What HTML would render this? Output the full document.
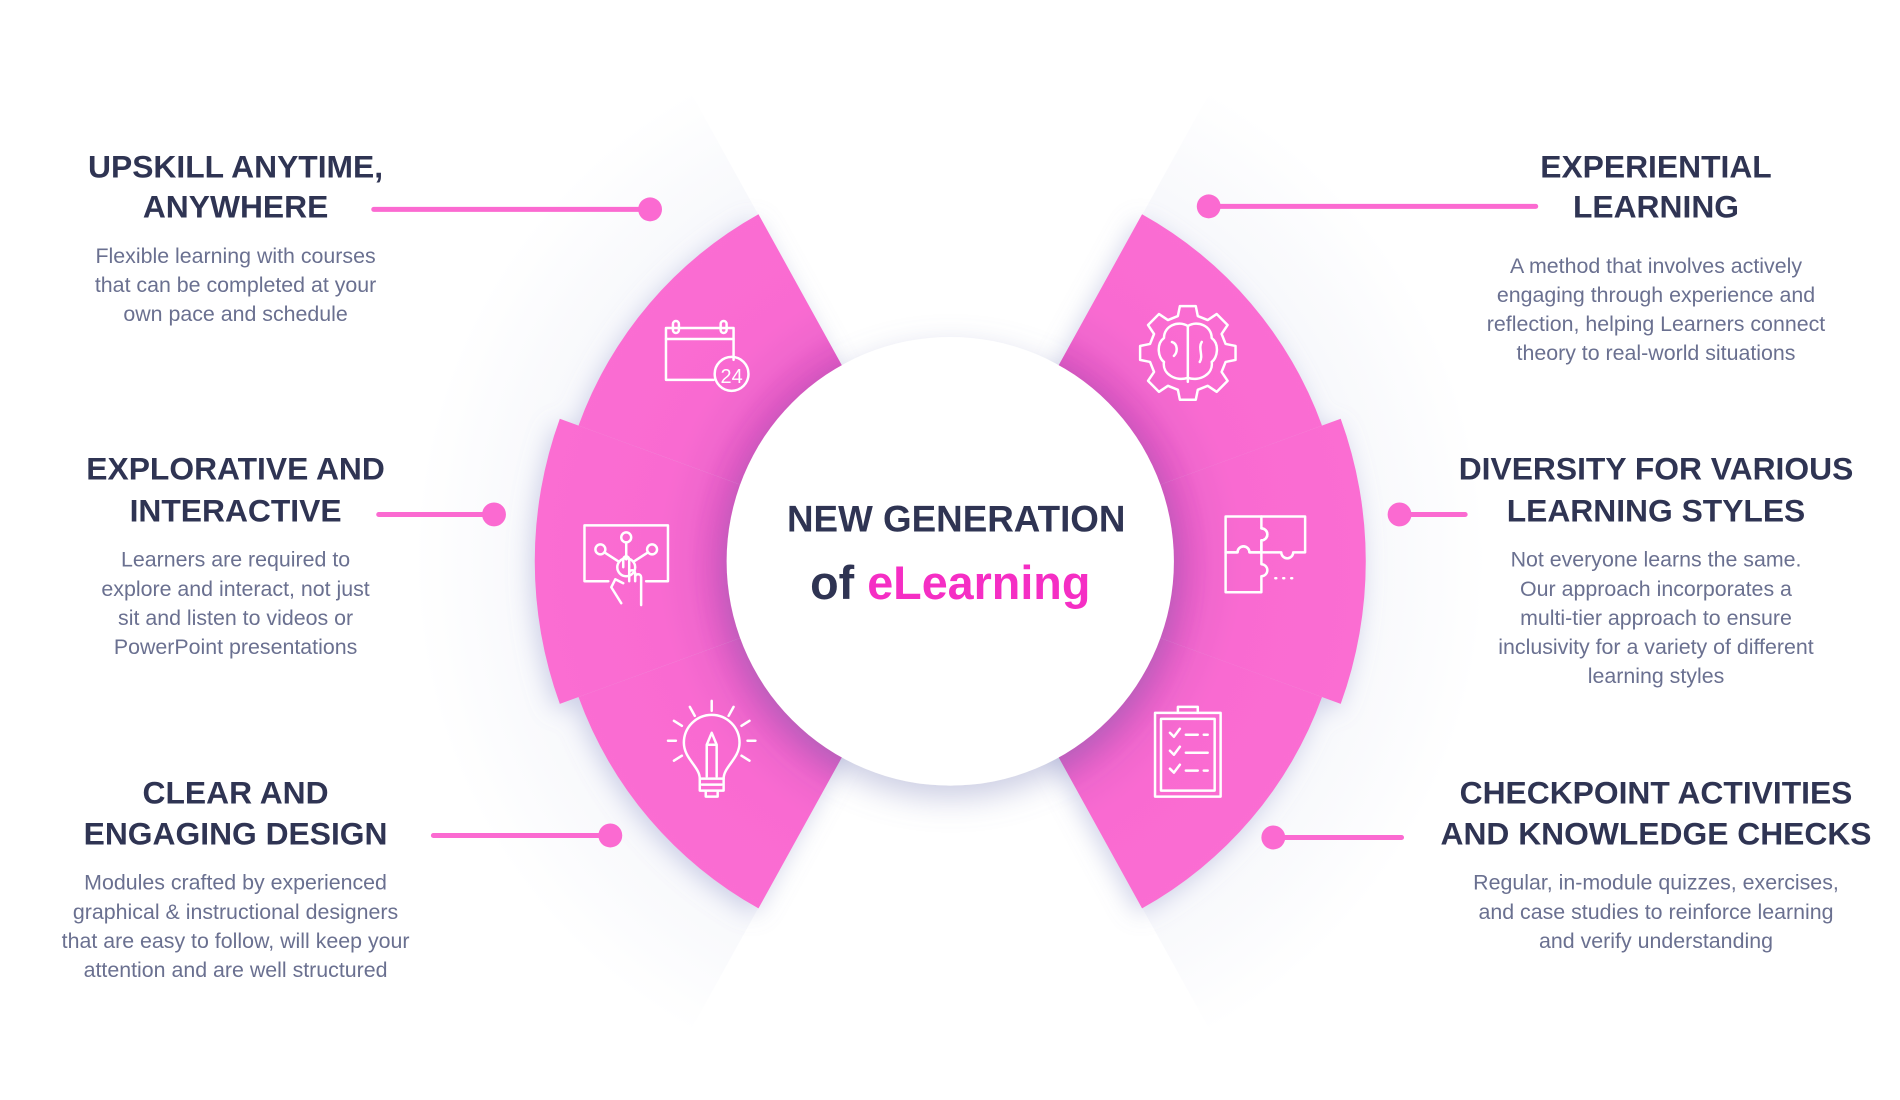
<!DOCTYPE html>
<html><head><meta charset="utf-8"><style>
html,body{margin:0;padding:0;background:#fff;width:1900px;height:1100px;overflow:hidden}
svg text{font-family:"Liberation Sans",sans-serif}
.h{font-weight:bold;font-size:32px;fill:#2f3453}
.b{font-size:21.5px;fill:#6a7090}
</style></head><body>
<svg width="1900" height="1100" viewBox="0 0 1900 1100" xmlns="http://www.w3.org/2000/svg">
<defs>
<radialGradient id="pg" gradientUnits="userSpaceOnUse" cx="0" cy="0" r="420">
<stop offset="0.5" stop-color="#d246b6"/>
<stop offset="0.55" stop-color="#df55c2"/>
<stop offset="0.62" stop-color="#f066cd"/>
<stop offset="0.7" stop-color="#f96bd1"/>
<stop offset="1" stop-color="#fb6dd2"/>
</radialGradient>
<radialGradient id="cone" gradientUnits="userSpaceOnUse" cx="0" cy="0" r="540">
<stop offset="0.65" stop-color="#eceef7"/>
<stop offset="0.85" stop-color="#f6f7fb"/>
<stop offset="1" stop-color="#ffffff"/>
</radialGradient>
<filter id="sh" x="-30%" y="-30%" width="160%" height="160%">
<feDropShadow dx="-4" dy="6" stdDeviation="12" flood-color="#8d93c8" flood-opacity="0.4"/>
</filter>
<filter id="csh" x="-30%" y="-30%" width="160%" height="160%">
<feDropShadow dx="0" dy="12" stdDeviation="16" flood-color="#7b80b8" flood-opacity="0.4"/>
</filter>
<path id="sec" d="M187.3,-70 L372.8,-139.4 A398,398 0 0 1 372.8,139.4 L187.3,70 A200,200 0 0 0 187.3,-70 Z"/>
<path id="mid" d="M187.9,-68.4 L392.8,-143 A418,418 0 0 1 392.8,143 L187.9,68.4 A200,200 0 0 0 187.9,-68.4 Z"/>
</defs>
<g transform="scale(0.994,0.997)">
<g transform="translate(956,563)">
  <path d="M0,0 L-261,-470 A540,540 0 0 0 -261,470 Z" fill="url(#cone)" opacity="0.55"/>
  <path d="M0,0 L261,-470 A540,540 0 0 1 261,470 Z" fill="url(#cone)" opacity="0.55"/>
  <g filter="url(#sh)">
    <use href="#sec" transform="rotate(220.5)" fill="url(#pg)"/>
    <use href="#sec" transform="rotate(139.5)" fill="url(#pg)"/>
    <use href="#mid" transform="rotate(180)" fill="url(#pg)"/>
  </g>
  <g filter="url(#sh)">
    <use href="#sec" transform="rotate(-40.5)" fill="url(#pg)"/>
    <use href="#sec" transform="rotate(40.5)" fill="url(#pg)"/>
    <use href="#mid" fill="url(#pg)"/>
  </g>
  <circle r="225" fill="#fff" filter="url(#csh)"/>
</g>

<text x="962" y="533" text-anchor="middle" style="font-weight:bold;font-size:37px;fill:#2f3453">NEW GENERATION</text>
<text x="956" y="601" text-anchor="middle" style="font-weight:bold;font-size:47px;fill:#2f3453">of <tspan fill="#f52ec4">eLearning</tspan></text>

<g fill="none" stroke="#fff" stroke-width="2.5" stroke-linecap="round" stroke-linejoin="round">
  <g transform="translate(710,357)">
    <path d="M8,24 H-40 V-28 H28 V4"/>
    <line x1="-40" y1="-17" x2="28" y2="-17"/>
    <rect x="-33" y="-35" width="6" height="12" rx="3"/>
    <rect x="15" y="-35" width="6" height="12" rx="3"/>
    <circle cx="26" cy="18" r="17"/>
  </g>
  <text x="736" y="384" text-anchor="middle" style="font-size:20px;fill:#fff" stroke="none">24</text>
  <g transform="translate(630,563)">
    <path d="M-18,20 H-42 V-36 H42 V20 H20"/>
    <circle cx="0" cy="-24" r="5"/><circle cx="-26" cy="-12" r="5"/><circle cx="26" cy="-12" r="5"/>
    <path d="M0,-19 V-2 M-22,-9 L-8,0 M22,-9 L8,0"/>
    <circle cx="0" cy="6" r="9"/>
    <path d="M-3,6 V-2 a3,3 0 0 1 6,0 V20 M3,12 a3,3 0 0 1 6,0 V20 M9,16 a3,3 0 0 1 6,0 V44 M-3,22 l-8,-4 -4,8 10,16"/>
  </g>
  <g transform="translate(716,761)">
    <path d="M-12,20 C-12,8 -28,0 -28,-16 A28,28 0 0 1 28,-16 C28,0 12,8 12,20 Z"/>
    <path d="M-12,20 V32 H12 V20 M-10,26 H10 M-6,32 V38 H6 V32"/>
    <path d="M-5,18 V-14 L0,-26 L5,-14 V18 M-5,-14 H5"/>
    <path d="M0,-58 V-48 M-22,-52 L-17,-43 M22,-52 L17,-43 M-38,-38 L-30,-33 M38,-38 L30,-33 M-44,-18 H-36 M44,-18 H36 M-38,2 L-30,-3 M38,2 L30,-3"/>
  </g>
  <g transform="translate(1195,353)">
    <path d="M-8,-46 H8 L10,-36 L20,-32 L29,-38 L40,-27 L34,-18 L38,-8 L48,-6 V8 L38,10 L34,20 L40,29 L29,40 L20,34 L10,38 L8,48 H-8 L-10,38 L-20,34 L-29,40 L-40,29 L-34,20 L-38,10 L-48,8 V-6 L-38,-8 L-34,-18 L-40,-27 L-29,-38 L-20,-32 L-10,-36 Z"/>
    <path d="M0,-26 V30 M0,-26 C-10,-32 -24,-26 -24,-14 C-32,-8 -30,6 -24,10 C-26,22 -12,30 0,26 M0,-26 C10,-32 24,-26 24,-14 C32,-8 30,6 24,10 C26,22 12,30 0,26 M-16,-10 C-10,-8 -10,0 -14,4 M14,-10 C10,-4 16,4 12,10"/>
  </g>
  <g transform="translate(1273,554)">
    <path d="M-40,-36 H-4 V-24 a6,6 0 0 1 0,12 V0 H-16 a6,6 0 0 0 -12,0 H-40 Z"/>
    <path d="M-4,-36 H40 V0 H28 a6,6 0 0 1 -12,0 H-4 V-12 a6,6 0 0 0 0,-12"/>
    <path d="M-40,0 H-28 a6,6 0 0 1 12,0 H-4 V12 a6,6 0 0 1 0,12 V40 H-40 Z"/>
    <path d="M10,26 h1 M18,26 h1 M26,26 h1"/>
  </g>
  <g transform="translate(1195,755)">
    <rect x="-33" y="-40" width="66" height="84"/>
    <rect x="-27" y="-34" width="54" height="72"/>
    <path d="M-10,-40 V-46 H10 V-40"/>
    <path d="M-18,-20 l4,4 6,-8 M-18,-2 l4,4 6,-8 M-18,16 l4,4 6,-8 M-2,-18 H10 M16,-18 H20 M-2,0 H20 M-2,18 H10 M16,18 H20"/>
  </g>
</g>

<g stroke="#fb6ad1" stroke-width="5" stroke-linecap="round" fill="#fb6ad1">
  <line x1="376" y1="210" x2="654" y2="210"/><circle cx="654" cy="210" r="12" stroke="none"/>
  <line x1="381" y1="516" x2="497" y2="516"/><circle cx="497" cy="516" r="12" stroke="none"/>
  <line x1="436" y1="838" x2="614" y2="838"/><circle cx="614" cy="838" r="12" stroke="none"/>
  <line x1="1216" y1="207" x2="1545" y2="207"/><circle cx="1216" cy="207" r="12" stroke="none"/>
  <line x1="1408" y1="516" x2="1474" y2="516"/><circle cx="1408" cy="516" r="12" stroke="none"/>
  <line x1="1281" y1="840" x2="1410" y2="840"/><circle cx="1281" cy="840" r="12" stroke="none"/>
</g>

<g text-anchor="middle">
  <text class="h" x="237" y="178">UPSKILL ANYTIME,</text>
  <text class="h" x="237" y="218">ANYWHERE</text>
  <text class="b" x="237" y="264">Flexible learning with courses</text>
  <text class="b" x="237" y="293">that can be completed at your</text>
  <text class="b" x="237" y="322">own pace and schedule</text>

  <text class="h" x="237" y="481">EXPLORATIVE AND</text>
  <text class="h" x="237" y="523">INTERACTIVE</text>
  <text class="b" x="237" y="568">Learners are required to</text>
  <text class="b" x="237" y="598">explore and interact, not just</text>
  <text class="b" x="237" y="627">sit and listen to videos or</text>
  <text class="b" x="237" y="656">PowerPoint presentations</text>

  <text class="h" x="237" y="806">CLEAR AND</text>
  <text class="h" x="237" y="847">ENGAGING DESIGN</text>
  <text class="b" x="237" y="892">Modules crafted by experienced</text>
  <text class="b" x="237" y="922">graphical &amp; instructional designers</text>
  <text class="b" x="237" y="951">that are easy to follow, will keep your</text>
  <text class="b" x="237" y="980">attention and are well structured</text>

  <text class="h" x="1666" y="178">EXPERIENTIAL</text>
  <text class="h" x="1666" y="218">LEARNING</text>
  <text class="b" x="1666" y="274">A method that involves actively</text>
  <text class="b" x="1666" y="303">engaging through experience and</text>
  <text class="b" x="1666" y="332">reflection, helping Learners connect</text>
  <text class="b" x="1666" y="361">theory to real-world situations</text>

  <text class="h" x="1666" y="481">DIVERSITY FOR VARIOUS</text>
  <text class="h" x="1666" y="523">LEARNING STYLES</text>
  <text class="b" x="1666" y="568">Not everyone learns the same.</text>
  <text class="b" x="1666" y="598">Our approach incorporates a</text>
  <text class="b" x="1666" y="627">multi-tier approach to ensure</text>
  <text class="b" x="1666" y="656">inclusivity for a variety of different</text>
  <text class="b" x="1666" y="685">learning styles</text>

  <text class="h" x="1666" y="806">CHECKPOINT ACTIVITIES</text>
  <text class="h" x="1666" y="847">AND KNOWLEDGE CHECKS</text>
  <text class="b" x="1666" y="892">Regular, in-module quizzes, exercises,</text>
  <text class="b" x="1666" y="922">and case studies to reinforce learning</text>
  <text class="b" x="1666" y="951">and verify understanding</text>
</g>
</g>
</svg>
</body></html>
